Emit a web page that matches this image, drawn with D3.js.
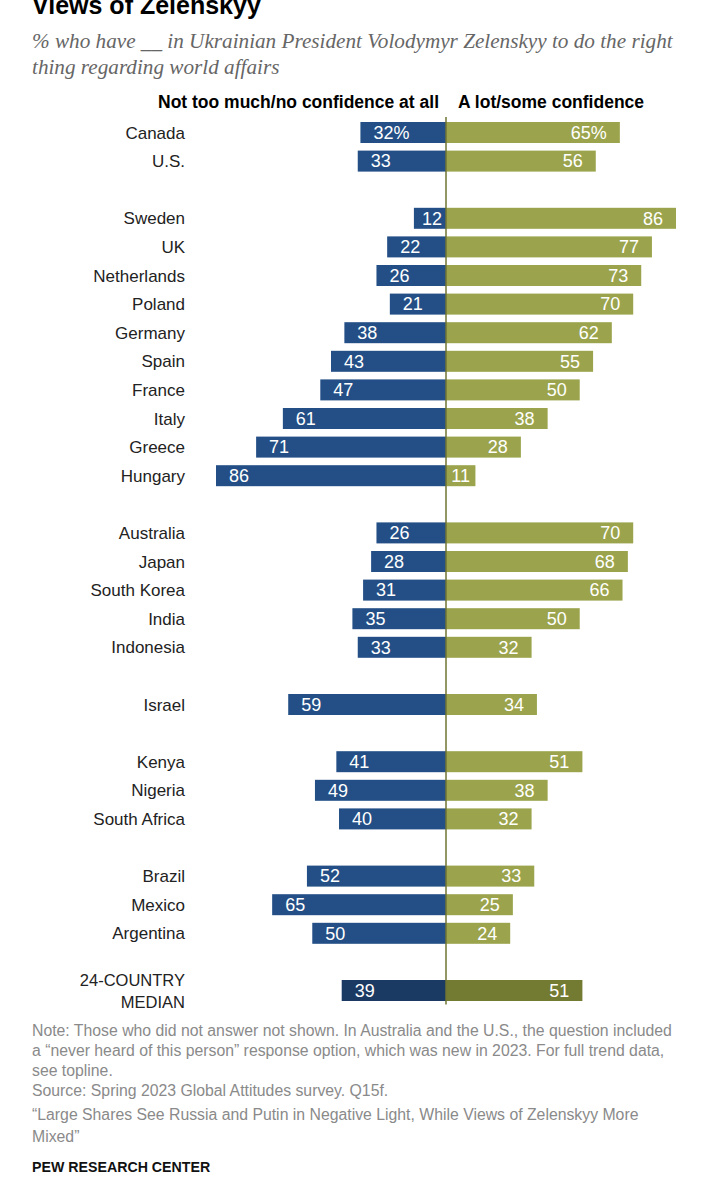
<!DOCTYPE html>
<html>
<head>
<meta charset="utf-8">
<script src="https://cdn.jsdelivr.net/npm/d3@7"></script>
<style>
  html, body { margin: 0; padding: 0; background: #fff; }
  svg { display: block; }
</style>
</head>
<body>
<script>
// ---- data ----
const countries = ["Canada","U.S.",
  "Sweden","UK","Netherlands","Poland","Germany","Spain","France","Italy","Greece","Hungary",
  "Australia","Japan","South Korea","India","Indonesia",
  "Israel",
  "Kenya","Nigeria","South Africa",
  "Brazil","Mexico","Argentina",
  "24-COUNTRY MEDIAN"];
// group index for each row (a blank row separates groups)
const groups = [0,0, 1,1,1,1,1,1,1,1,1,1, 2,2,2,2,2, 3, 4,4,4, 5,5,5, 6];
const noConfidence = [32,33, 12,22,26,21,38,43,47,61,71,86, 26,28,31,35,33, 59, 41,49,40, 52,65,50, 39];
const confidence   = [65,56, 86,77,73,70,62,55,50,38,28,11, 70,68,66,50,32, 34, 51,38,32, 33,25,24, 51];
const seriesNames = ["Not too much/no confidence at all", "A lot/some confidence"];

const title = "Views of Zelenskyy";
const subtitle = ["% who have __ in Ukrainian President Volodymyr Zelenskyy to do the right",
                  "thing regarding world affairs"];
const notes = [
  "Note: Those who did not answer not shown. In Australia and the U.S., the question included",
  "a \u201cnever heard of this person\u201d response option, which was new in 2023. For full trend data,",
  "see topline.",
  "Source: Spring 2023 Global Attitudes survey. Q15f.",
  "\u201cLarge Shares See Russia and Putin in Negative Light, While Views of Zelenskyy More",
  "Mixed\u201d"
];
const credit = "PEW RESEARCH CENTER";

// ---- layout ----
const W = 710, H = 1200;
const center = 446;
const pxPerUnit = 230 / 86;
const rowStep = 28.6;
const firstRowY = 132.5;
const barH = 21;

const colors = {
  blue: "#234f86", green: "#9ba44c",
  blueMed: "#1b3a63", greenMed: "#737a32",
  axis: "#6f7433"
};
const sans = "'Liberation Sans', Arial, sans-serif";

const svg = d3.select("body").append("svg").attr("width", W).attr("height", H);

// row slot index: row index + group gaps
const rows = countries.map((c, i) => ({
  name: c, grp: groups[i], no: noConfidence[i], yes: confidence[i],
  slot: i + groups[i], median: i === countries.length - 1
}));
const nSlots = d3.max(rows, d => d.slot) + 1;

const y = d3.scaleLinear().domain([0, nSlots - 1]).range([firstRowY, firstRowY + (nSlots - 1) * rowStep]);
const xL = d3.scaleLinear().domain([0, 100]).range([center, center - 100 * pxPerUnit]);
const xR = d3.scaleLinear().domain([0, 100]).range([center, center + 100 * pxPerUnit]);

// title (top is clipped by the frame, as in the reference)
svg.append("text").attr("x", 32).attr("y", 14)
  .attr("font-family", sans).attr("font-weight", "bold").attr("font-size", 25)
  .attr("fill", "#000").text(title);

// subtitle
svg.selectAll("text.sub").data(subtitle).join("text").attr("class", "sub")
  .attr("x", 32).attr("y", (d, i) => 48 + i * 26)
  .attr("font-family", "'Liberation Serif', 'DejaVu Serif', serif")
  .attr("font-style", "italic").attr("font-size", 21.2).attr("fill", "#666")
  .text(d => d);

// series headers
svg.append("text").attr("x", center - 7).attr("y", 108)
  .attr("text-anchor", "end").attr("font-family", sans).attr("font-weight", "bold")
  .attr("font-size", 17.5).attr("fill", "#000").text(seriesNames[0]);
svg.append("text").attr("x", center + 12).attr("y", 108)
  .attr("text-anchor", "start").attr("font-family", sans).attr("font-weight", "bold")
  .attr("font-size", 17.5).attr("fill", "#000").text(seriesNames[1]);

// bars
const g = svg.append("g");
g.selectAll("rect.no").data(rows).join("rect").attr("class", "no")
  .attr("x", d => xL(d.no)).attr("width", d => xL(0) - xL(d.no))
  .attr("y", d => y(d.slot) - barH / 2).attr("height", barH)
  .attr("fill", d => d.median ? colors.blueMed : colors.blue);
g.selectAll("rect.yes").data(rows).join("rect").attr("class", "yes")
  .attr("x", xR(0)).attr("width", d => xR(d.yes) - xR(0))
  .attr("y", d => y(d.slot) - barH / 2).attr("height", barH)
  .attr("fill", d => d.median ? colors.greenMed : colors.green);

// center axis line
svg.append("line").attr("x1", center).attr("x2", center)
  .attr("y1", 117).attr("y2", y(nSlots - 1) + 14)
  .attr("stroke", colors.axis).attr("stroke-width", 1.5);

// value labels
const fmt = (v, i) => i === 0 ? v + "%" : String(v);
const labelFont = 18;
function placeLabels(cls, key, scale, side) {
  const t = g.selectAll("text." + cls).data(rows).join("text").attr("class", cls)
    .attr("font-family", sans).attr("font-size", labelFont).attr("fill", "#fff")
    .attr("y", d => y(d.slot) + 6.3)
    .text((d, i) => fmt(d[key], i));
  t.each(function(d) {
    const w = this.getComputedTextLength();
    const outer = scale(d[key]);
    const len = Math.abs(outer - center);
    const sel = d3.select(this);
    if (len < w + 24) {
      sel.attr("text-anchor", "middle").attr("x", (outer + center) / 2 + (side < 0 ? 2 : 0));
    } else if (side < 0) {
      sel.attr("text-anchor", "start").attr("x", outer + 13);
    } else {
      sel.attr("text-anchor", "end").attr("x", outer - 13);
    }
  });
}
placeLabels("vno", "no", xL, -1);
placeLabels("vyes", "yes", xR, 1);

// country labels
const labX = 185;
const labFont = 17;
rows.forEach(d => {
  if (d.median) {
    const parts = ["24-COUNTRY", "MEDIAN"];
    parts.forEach((p, k) => {
      svg.append("text").attr("x", labX).attr("y", y(d.slot) - 11 + k * 22 + 6)
        .attr("text-anchor", "end").attr("font-family", sans).attr("font-size", 16.5)
        .attr("fill", "#222").text(p);
    });
  } else {
    svg.append("text").attr("x", labX).attr("y", y(d.slot) + 6)
      .attr("text-anchor", "end").attr("font-family", sans).attr("font-size", labFont)
      .attr("fill", "#222").text(d.name);
  }
});

// notes
const noteY = [1036, 1056, 1076, 1096, 1120, 1142];
svg.selectAll("text.note").data(notes).join("text").attr("class", "note")
  .attr("x", 32).attr("y", (d, i) => noteY[i])
  .attr("font-family", sans).attr("font-size", 15.8).attr("fill", "#8a8a8a")
  .text(d => d);

svg.append("text").attr("x", 32).attr("y", 1172)
  .attr("font-family", sans).attr("font-weight", "bold").attr("font-size", 14.2)
  .attr("fill", "#111").text(credit);
</script>
</body>
</html>
